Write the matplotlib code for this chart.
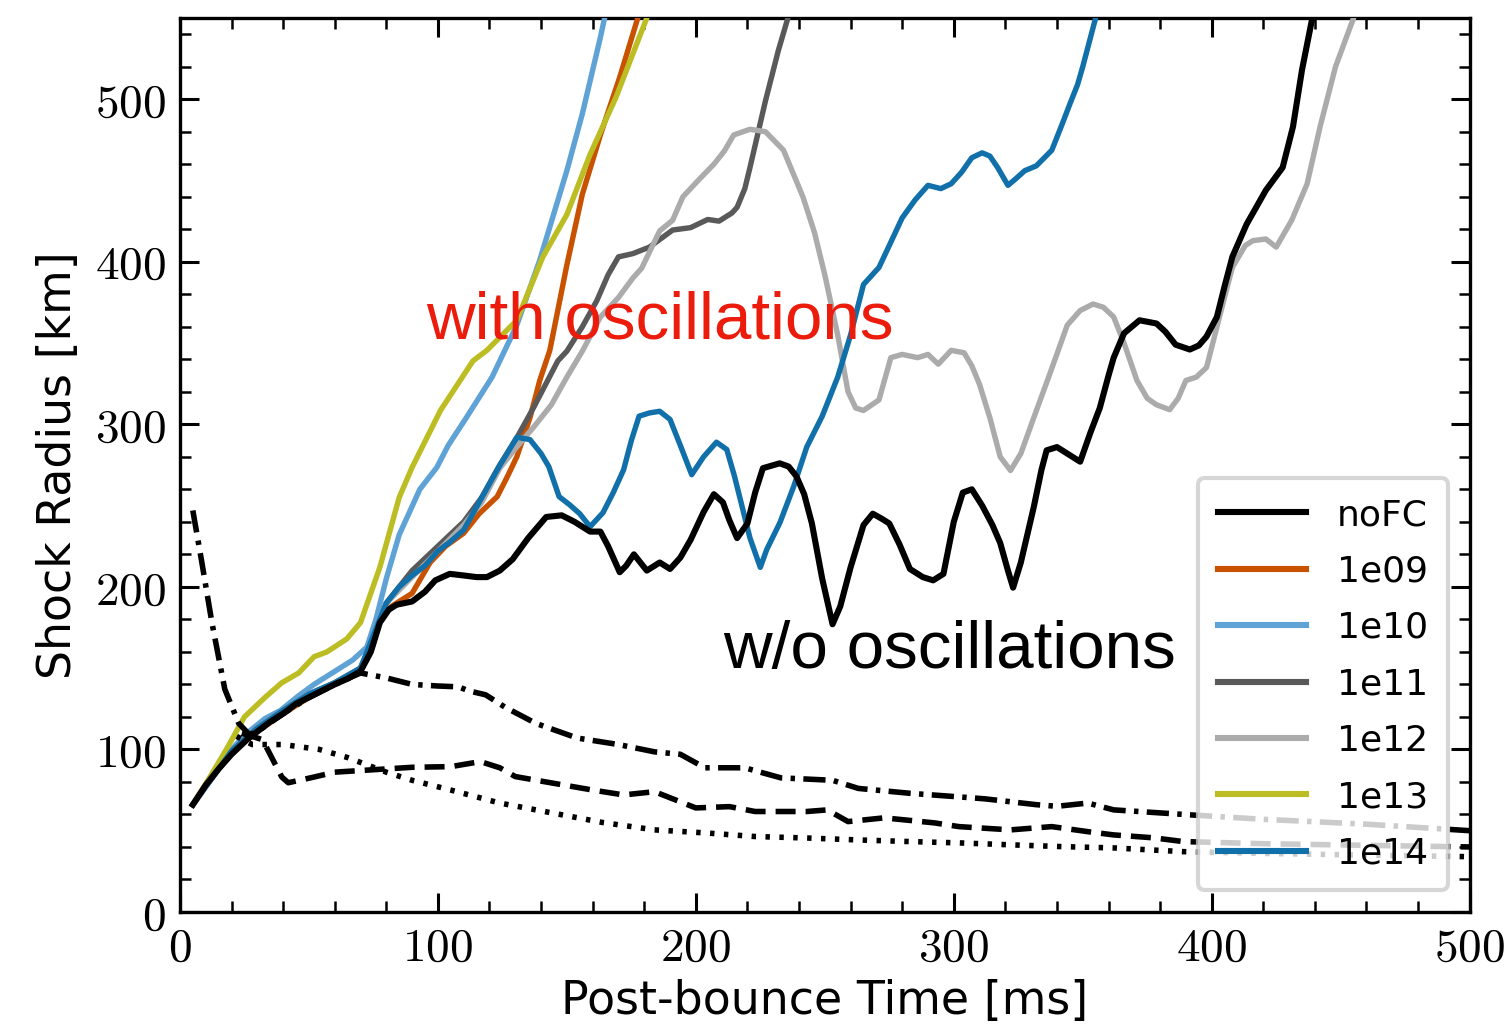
import matplotlib
matplotlib.use("Agg")
import matplotlib.pyplot as plt
from matplotlib.ticker import MultipleLocator, FuncFormatter

plt.rcParams['font.family'] = ['DejaVu Sans']
plt.rcParams['mathtext.fontset'] = 'cm'

# ---------------- data (time [ms], shock radius [km]) ----------------
t_noFC = [5, 10, 15, 20, 26, 30, 35, 40, 45, 50, 55, 60, 65, 70, 74, 77.5, 81, 84, 90, 95, 99,
          104.6, 110, 115, 119, 124, 129, 135, 142, 148, 153, 159, 163, 166, 170.5, 173, 176,
          178.5, 181, 186, 190, 194, 198, 203, 207, 210.5, 213, 216, 220, 223, 226, 232.5, 236,
          239, 242, 245, 249, 253, 256, 260, 265, 268.6, 272, 275, 279, 283, 288, 292, 296, 300,
          303.5, 307, 311, 315, 318, 321, 323, 326, 331, 334, 336, 340, 345, 349, 353, 356.6,
          360, 362, 366, 372, 378.6, 382, 386, 391.5, 395, 398, 402, 405, 408, 413.5, 421,
          427.5, 431.5, 435, 439, 442]
r_noFC = [66, 78, 88, 97, 106, 111, 117, 122, 128, 132, 136, 140, 143.5, 148, 160, 178, 186, 189,
          191, 197, 204, 208, 207, 206, 206, 210, 217, 230, 243, 244, 240, 234, 234, 225, 209,
          213, 220, 215, 210, 215, 211, 218, 229, 246, 257, 252, 241, 230, 239, 258, 273, 276,
          274, 268, 257, 239, 205, 177, 188, 212, 238, 245, 242, 239, 226, 211, 206, 204, 208,
          240, 258, 260, 250, 238, 227, 210, 199.5, 215, 249, 272, 284, 286, 281, 277, 295,
          310, 330, 341, 356, 364, 362, 357, 349, 346, 348.5, 354, 366, 385, 403, 423, 444,
          458, 483, 518, 550, 570]

t_1e09 = [5, 10, 15, 20, 26, 30, 40, 50, 60, 70, 75, 77.5, 82, 90, 97, 103, 110, 116, 123, 127,
          130.6, 135.7, 139.5, 143.4, 150, 156, 163, 170.5, 177.5, 180]
r_1e09 = [66, 78, 88, 97, 106, 111, 122, 132, 140, 148, 165, 182, 188, 196, 215, 225, 233, 245,
          255.5, 268, 280, 304, 327, 345.5, 398, 441.5, 478, 513.5, 550, 565]

t_1e10 = [5, 12, 20, 26, 33, 39, 46, 52, 58, 67, 72.5, 76, 80, 85, 93, 99.6, 104, 111, 121,
          130.6, 139.5, 150, 156, 163, 166]
r_1e10 = [66, 83, 100, 110, 119, 124, 133, 140, 146, 155, 163, 180, 205, 232, 260, 273.5, 287,
          304, 329, 361, 401, 456, 491, 538, 560]

t_1e11 = [5, 20, 30, 40, 50, 60, 70, 75, 80, 85, 90, 100, 110, 117, 124, 130, 137, 146.5, 150,
          156, 161.6, 166, 170, 175.6, 182, 191, 198, 204.6, 209, 214, 216, 219, 221, 227, 232,
          235.7, 238]
r_1e11 = [66, 99, 113, 124, 134, 141, 150, 168, 190, 200, 210, 225, 240, 255, 275, 290, 310, 339,
          345, 360, 376, 392, 403, 405, 409, 419.5, 421, 426, 425, 430, 433.5, 445, 458, 499,
          530, 550, 565]

t_1e12 = [5, 20, 30, 40, 50, 60, 70, 75, 80, 85, 90, 100, 110, 117, 124, 130, 137, 144, 150, 156,
          163, 170, 175.6, 179, 186, 191, 195, 201.5, 207, 211, 214.7, 221, 227, 234, 241.5,
          246, 250, 255, 259, 262, 265, 271, 275.6, 280, 286, 290, 294, 299, 304, 307, 310, 314,
          318, 322, 326, 331, 337, 344, 349, 354, 358, 362, 366, 371, 375, 378.6, 383.7, 387,
          390, 394, 398, 403, 408, 413, 416, 421, 425, 431, 437, 442, 448, 455, 458]
r_1e12 = [66, 99, 113, 124, 134, 141, 150, 168, 190, 198, 206, 222, 238, 252, 273, 285, 298, 312,
          329, 345, 366, 378, 390, 396, 419, 425.5, 440, 451, 460, 468, 478, 481.5, 480, 468.6,
          440, 418, 392, 355, 320, 310, 308.5, 315, 341, 343, 341, 343, 337, 345.5, 344, 336,
          324.5, 304, 280, 271.6, 282, 304, 330, 361, 370, 374, 372, 366, 350, 327, 316, 312,
          309, 316, 327, 329, 335, 366, 396.5, 410, 413, 414, 409, 425.5, 448, 483, 520, 550,
          565]

t_1e13 = [5, 12, 18, 25, 33, 39.5, 46, 52, 57, 64.7, 70, 77.5, 85, 90, 101, 113.6, 119, 130.6,
          140.7, 150, 159, 169, 181, 184]
r_1e13 = [66, 84, 100, 120, 132, 141, 147, 157, 160, 168, 178, 212, 255, 273.5, 308.5, 339,
          345.5, 364, 403, 429, 466, 501, 550, 565]

t_1e14 = [5, 20, 30, 40, 50, 60, 70, 75, 80, 85, 90, 95, 100, 105, 110, 116, 123, 130.6, 135.7,
          140, 143, 147, 151, 155, 159, 164, 168, 172, 175, 178, 182, 186, 190, 194, 198.4, 203,
          208, 212, 215, 218, 221, 225, 227.5, 232.6, 238, 243, 249, 255, 260, 265, 271, 275,
          280, 285, 290, 295, 299, 303, 307, 311, 314, 317, 321, 324, 327.5, 332, 338, 342, 345,
          348, 350, 355, 358]
r_1e14 = [66, 99, 113, 124, 134, 141, 150, 170, 190, 200, 207, 213, 222, 228, 235, 252, 272, 292,
          290.6, 282, 274, 255.5, 250.6, 245, 237, 245.6, 258, 272, 290, 305, 307, 308, 303, 287,
          269, 280, 289, 284.5, 268, 249, 230, 212, 223, 239.5, 262, 286, 305, 329, 355, 386,
          396.5, 410, 427, 438, 447, 445, 448, 455, 464, 467, 465, 458, 447, 451, 456, 459,
          468.6, 484.6, 497, 509, 520, 550, 565]

# auxiliary radii (noFC): dash-dot, dashed, dotted
t_dashdot = [5, 8.5, 12.4, 17.4, 22.8, 27, 30, 40, 50, 60, 70, 80, 90, 100, 108, 112, 118.5, 126,
             138, 154, 170, 184, 194, 203.5, 219, 225, 233, 253, 263, 283, 302, 312, 332, 340,
             352, 362, 392, 420, 460, 500]
r_dashdot = [247, 215, 178, 137, 116, 109, 111, 122, 132, 140, 147, 144, 140, 139, 138.5, 136,
             133.6, 126, 116, 107, 103, 98.5, 97, 88.7, 88.7, 86, 82.5, 81, 76, 73, 70.8, 69.6,
             66, 65, 67, 62.8, 59.7, 57, 54, 50]

t_dashed = [24, 32, 39.5, 42, 52, 60, 70, 80, 90, 105, 116.5, 124, 130, 144, 160, 172, 184, 192,
            200, 213, 223, 243, 251, 259, 273, 292.5, 302, 322, 338, 352, 362, 377.5, 389, 420,
            460, 500]
r_dashed = [110, 106, 83, 79.5, 83, 86, 87, 88, 89, 89.4, 92.5, 88.7, 83.3, 79.4, 75, 72, 74, 69,
            64, 64.8, 61.8, 61.8, 62.8, 55.6, 57.9, 54.8, 52.5, 50.5, 52.5, 49.4, 47.4, 45.6,
            43.3, 42, 41, 40]

t_dotted = [22, 28, 40, 54, 65, 80, 90, 105, 124, 144, 164, 184, 204, 223, 243, 263, 283, 302,
            322, 342, 362, 389, 420, 460, 500]
r_dotted = [108, 103, 103, 100, 95, 86, 81, 75, 67, 61, 55, 50.5, 48.6, 46.4, 45.5, 44.3, 43.3,
            42.5, 41.3, 40.2, 39.4, 37.1, 36, 35, 34]

labels = ['noFC', '1e09', '1e10', '1e11', '1e12', '1e13', '1e14']
x_ticks = [0, 100, 200, 300, 400, 500]
y_ticks = [0, 100, 200, 300, 400, 500]

# ---------------- figure ----------------
fig = plt.figure(figsize=(15.12, 10.30), dpi=100)
ax = fig.add_axes([0.119, 0.1146, 0.853, 0.868])

colors = {'1e09': '#C85200', '1e10': '#5FA2D6', '1e11': '#595959', '1e12': '#ABABAB',
          '1e13': '#BCBD22', '1e14': '#1170AA'}

series = [('1e09', t_1e09, r_1e09), ('1e10', t_1e10, r_1e10), ('1e11', t_1e11, r_1e11),
          ('1e12', t_1e12, r_1e12), ('1e13', t_1e13, r_1e13), ('1e14', t_1e14, r_1e14)]

handles = {}
handles['noFC'], = ax.plot(t_noFC, r_noFC, color='black', lw=4.4, zorder=5, label='noFC',
                           solid_joinstyle='round')
for name, t, r in series:
    handles[name], = ax.plot(t, r, color=colors[name], lw=3.9, zorder=3, label=name,
                             solid_joinstyle='round')

ax.plot(t_dashdot, r_dashdot, color='black', lw=4.0, zorder=4,
        linestyle=(0, (4.0, 1.5, 0.8, 1.5)))
ax.plot(t_dashed, r_dashed, color='black', lw=4.0, zorder=4,
        linestyle=(0, (3.6, 1.8)))
ax.plot(t_dotted, r_dotted, color='black', lw=4.0, zorder=4,
        linestyle=(0, (0.8, 1.7)))

ax.text(186, 353, 'with oscillations', color='#EC1C0C', fontsize=48.5,
        family='Liberation Sans', ha='center', va='baseline', zorder=6)
ax.text(298.5, 150, 'w/o oscillations', color='black', fontsize=48.5,
        family='Liberation Sans', ha='center', va='baseline', zorder=6)

ax.set_xlim(0, 500)
ax.set_ylim(0, 550)
ax.set_xticks(x_ticks)
ax.set_yticks(y_ticks)
ax.xaxis.set_minor_locator(MultipleLocator(20))
ax.yaxis.set_minor_locator(MultipleLocator(20))
fmt = FuncFormatter(lambda v, p: r'$%d$' % int(round(v)))
ax.xaxis.set_major_formatter(fmt)
ax.yaxis.set_major_formatter(fmt)
ax.tick_params(which='both', direction='in', top=True, right=True, labelsize=34)
ax.tick_params(which='major', length=14, width=2.2, pad=10)
ax.tick_params(which='minor', length=8, width=1.8)
for s in ax.spines.values():
    s.set_linewidth(2.4)

ax.set_xlabel('Post-bounce Time [ms]', fontsize=33, labelpad=6)
ax.set_ylabel('Shock Radius [km]', fontsize=33, labelpad=10)

leg = ax.legend([handles[l] for l in labels], labels, loc='lower right', fontsize=26,
                handlelength=2.45, handletextpad=0.85, labelspacing=0.62,
                borderaxespad=0.6, borderpad=0.55, framealpha=0.8, fancybox=True,
                edgecolor='#cccccc')
leg.get_frame().set_linewidth(3.0)
leg.set_zorder(10)
for h in leg.legend_handles:
    h.set_linewidth(4.4)

fig.savefig('out.png', dpi=100)
